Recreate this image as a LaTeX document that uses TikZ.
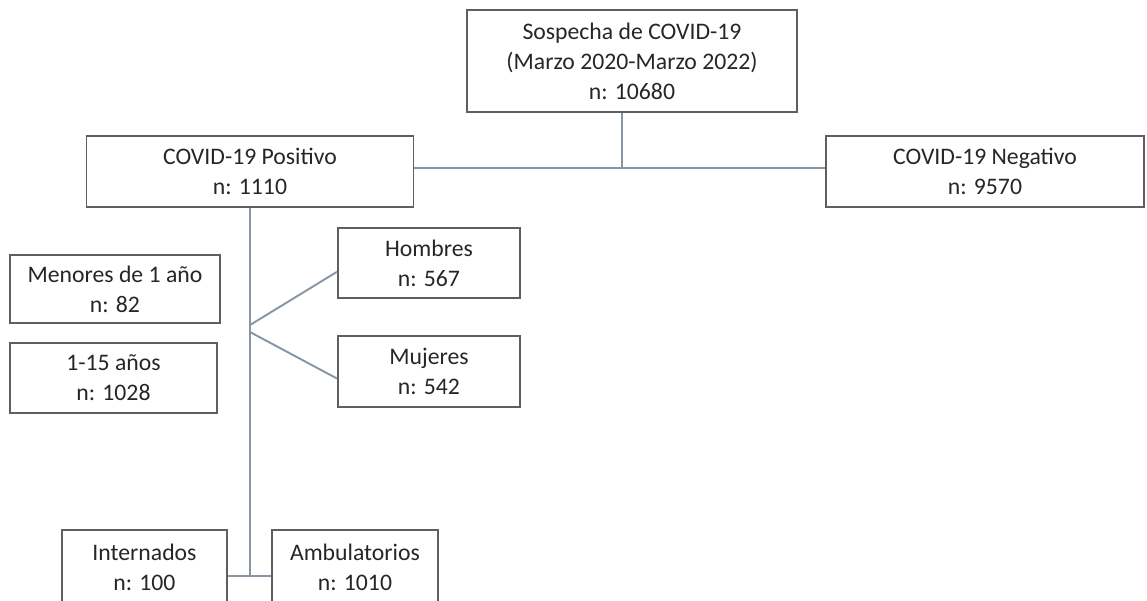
\documentclass[tikz,border=0pt]{standalone}
\usepackage{fontspec}
\setmainfont{Carlito}
\usetikzlibrary{positioning}
\definecolor{boxgray}{RGB}{95,95,95}
\definecolor{linegray}{RGB}{135,150,165}
\tikzset{
  cbox/.style={draw=boxgray, line width=1.1pt, align=center, inner sep=2pt,
    font=\fontsize{13.5}{17}\selectfont, text=black!85},
  link/.style={draw=linegray, line width=1.1pt}
}
\begin{document}
\begin{tikzpicture}[x=0.02cm, y=-0.02cm]
  \useasboundingbox (0,0) rectangle (1147,600);

  % boxes (pixel coordinates)
  \node[cbox, minimum width=330*0.02cm, minimum height=102*0.02cm] (sosp) at (632,61)
    {Sospecha de COVID-19\\(Marzo 2020-Marzo 2022)\\n: 10680};
  \node[cbox, minimum width=327*0.02cm, minimum height=71*0.02cm] (pos) at (250,171.5)
    {COVID-19 Positivo\\n: 1110};
  \node[cbox, minimum width=318*0.02cm, minimum height=71*0.02cm] (neg) at (985,171.5)
    {COVID-19 Negativo\\n: 9570};
  \node[cbox, minimum width=210*0.02cm, minimum height=68*0.02cm] (menor) at (115,289)
    {Menores de 1 año\\n: 82};
  \node[cbox, minimum width=207*0.02cm, minimum height=70*0.02cm] (anios) at (113.5,378)
    {1-15 años\\n: 1028};
  \node[cbox, minimum width=182*0.02cm, minimum height=70*0.02cm] (hombres) at (429,263)
    {Hombres\\n: 567};
  \node[cbox, minimum width=182*0.02cm, minimum height=71*0.02cm] (mujeres) at (429,371.5)
    {Mujeres\\n: 542};
  \node[cbox, minimum width=165*0.02cm, minimum height=74*0.02cm] (intern) at (144.5,567)
    {Internados\\n: 100};
  \node[cbox, minimum width=166*0.02cm, minimum height=74*0.02cm] (ambul) at (355,567)
    {Ambulatorios\\n: 1010};

  % branch points
  \coordinate (jtop) at (622,168);
  \coordinate (jg1) at (250,325);
  \coordinate (jg2) at (250,332);
  \coordinate (jbot) at (250,576);

  % connectors
  \draw[link] (jtop |- sosp.south) -- (jtop);
  \draw[link] (pos.east |- jtop) -- (neg.west |- jtop);
  \draw[link] (pos.south) -- (jbot);
  \draw[link] (jg1) -- ([yshift=-5pt]hombres.west);
  \draw[link] (jg2) -- ([yshift=-4pt]mujeres.west);
  \draw[link] (intern.east |- jbot) -- (ambul.west |- jbot);
\end{tikzpicture}
\end{document}
